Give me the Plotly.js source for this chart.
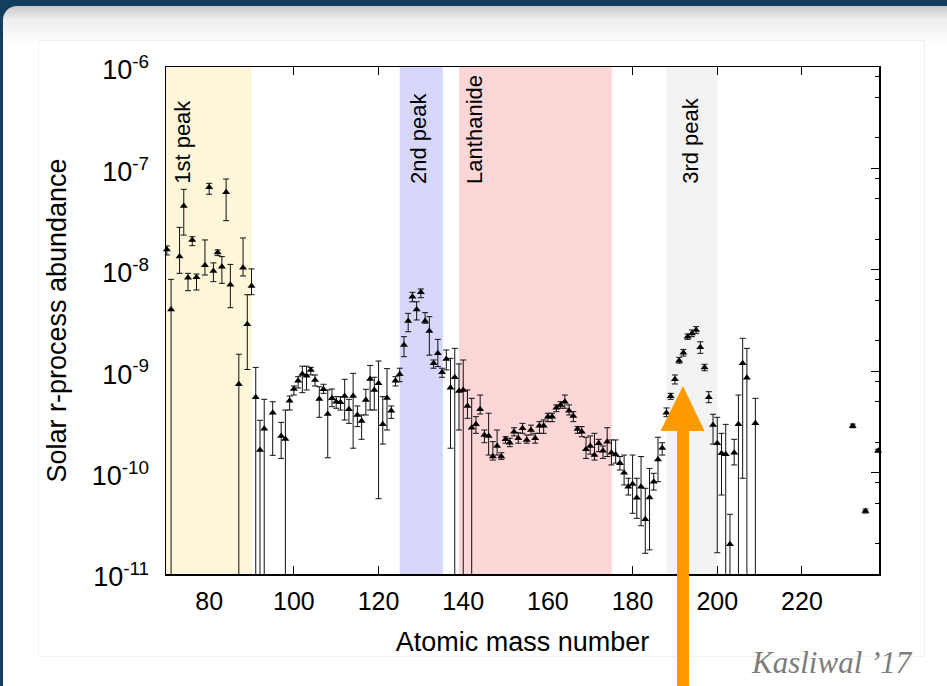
<!DOCTYPE html>
<html>
<head>
<meta charset="utf-8">
<script src="https://cdn.plot.ly/plotly-3.0.1.min.js"></script>
<style>
html,body{margin:0;padding:0;width:947px;height:686px;overflow:hidden;background:#133f5f;}
#panel{position:absolute;left:3px;top:6px;width:1000px;height:740px;border-radius:14px;background:linear-gradient(#c9c9c9 0px,#eeeeee 14px,#ffffff 38px);}
#box{position:absolute;left:38px;top:40px;width:885px;height:615px;border:1px solid #f1f1f1;}
#chart{position:absolute;left:0;top:0;width:947px;height:686px;}
</style>
</head>
<body>
<div id="panel"></div>
<div id="box"></div>
<div id="chart"></div>
<script>
// ---- data ----
const massNumber = [70,71,73,74,75,76,77,79,80,81,82,83,84,85,87,88,89,90,91,92,93,95,97,98,
  99,100,101,102,103,104,105,106,107,108,109,110,111,112,113,114,115,116,117,118,119,120,121,122,123,124,
  125,126,127,128,129,130,131,132,133,134,135,136,137,138,139,140,141,142,143,144,145,146,147,148,149,150,
  151,152,153,154,155,156,157,158,159,160,161,162,163,164,165,166,167,168,169,170,171,172,173,174,175,176,
  177,178,179,180,181,182,183,184,185,186,187,188,189,190,191,192,193,194,195,196,197,198,199,200,201,202,
  203,204,205,206,207,209,232,235,238];
const abundance = [1.59e-8,4.07e-9,1.35e-8,4.26e-8,8.36e-9,1.97e-8,8.43e-9,1.11e-8,6.52e-8,9.73e-9,1.48e-8,1.07e-8,5.81e-8,7.13e-9,7.43e-10,1.05e-8,2.90e-9,6.92e-9,5.53e-10,1.67e-10,2.71e-10,3.90e-10,2.30e-10,2.14e-10,
  5.12e-10,6.68e-10,8.06e-10,9.38e-10,9.03e-10,1.03e-9,8.19e-10,5.32e-10,6.63e-10,3.78e-10,5.40e-10,5.00e-10,4.93e-10,5.69e-10,4.21e-10,5.69e-10,3.70e-10,3.23e-10,5.20e-10,8.38e-10,6.53e-10,7.60e-10,2.99e-10,5.44e-10,4.08e-10,8.06e-10,
  9.32e-10,1.81e-9,3.13e-9,5.43e-9,4.07e-9,6.00e-9,3.13e-9,2.49e-9,1.20e-9,1.50e-9,9.75e-10,1.32e-9,6.88e-10,8.71e-10,6.38e-10,6.53e-10,4.54e-10,2.77e-10,2.99e-10,4.21e-10,2.35e-10,2.30e-10,1.44e-10,1.83e-10,1.44e-10,2.13e-10,
  1.97e-10,2.53e-10,2.18e-10,2.73e-10,2.10e-10,2.63e-10,2.18e-10,2.90e-10,2.90e-10,3.56e-10,3.56e-10,4.37e-10,4.65e-10,5.00e-10,4.08e-10,3.61e-10,2.69e-10,2.53e-10,1.70e-10,1.83e-10,1.49e-10,1.95e-10,1.64e-10,2.02e-10,1.57e-10,1.51e-10,
  1.24e-10,9.98e-11,7.26e-11,7.72e-11,5.65e-11,7.26e-11,3.46e-11,5.69e-11,8.13e-11,1.35e-10,1.75e-10,3.90e-10,5.65e-10,8.32e-10,1.27e-9,1.52e-9,2.19e-9,2.36e-9,2.55e-9,1.72e-9,1.09e-9,5.53e-10,2.94e-10,1.95e-10,1.55e-10,1.52e-10,
  1.96e-11,1.57e-10,2.99e-10,1.20e-9,8.63e-10,3.06e-10,2.88e-10,4.18e-11,1.64e-10];
const abundanceUpper = [1.72e-8,8.05e-9,2.62e-8,6.22e-8,9.23e-9,2.12e-8,9.09e-9,1.97e-8,7.13e-8,1.17e-8,1.57e-8,1.35e-8,7.86e-8,1.13e-8,1.47e-9,2.06e-8,5.68e-9,1.02e-8,1.09e-9,3.28e-10,5.28e-10,5.00e-10,3.13e-10,4.14e-10,
  5.69e-10,7.15e-10,8.83e-10,1.12e-9,1.12e-9,1.09e-9,9.18e-10,7.03e-10,7.43e-10,6.53e-10,6.68e-10,5.61e-10,5.61e-10,8.32e-10,5.28e-10,9.53e-10,4.54e-10,3.70e-10,6.63e-10,1.14e-9,8.71e-10,1.26e-9,5.61e-10,1.06e-9,4.54e-10,8.83e-10,
  1.07e-9,2.19e-9,3.72e-9,6.00e-9,4.84e-9,6.47e-9,3.78e-9,3.45e-9,1.29e-9,2.06e-9,1.07e-9,1.62e-9,1.34e-9,1.68e-9,1.18e-9,1.29e-9,6.53e-10,5.40e-10,3.56e-10,5.82e-10,2.63e-10,3.85e-10,2.02e-10,2.63e-10,1.57e-10,2.26e-10,
  2.18e-10,2.77e-10,2.47e-10,3.06e-10,2.35e-10,2.94e-10,2.44e-10,3.18e-10,3.30e-10,3.85e-10,3.85e-10,4.65e-10,5.00e-10,5.82e-10,4.65e-10,3.99e-10,2.84e-10,2.84e-10,2.23e-10,2.30e-10,2.44e-10,2.13e-10,1.83e-10,2.77e-10,2.10e-10,2.10e-10,
  1.44e-10,1.49e-10,8.79e-11,1.49e-10,8.79e-11,1.44e-10,7.00e-11,1.10e-10,9.84e-11,2.23e-10,1.97e-10,4.34e-10,6.05e-10,9.18e-10,1.37e-9,1.64e-9,2.33e-9,2.55e-9,2.75e-9,1.95e-9,1.17e-9,6.28e-10,3.76e-10,3.51e-10,2.44e-10,2.99e-10,
  3.88e-11,2.13e-10,5.82e-10,2.11e-9,1.68e-9,5.40e-10,3.01e-10,4.37e-11,1.70e-10];
const abundanceLower = [1.40e-8,0,9.23e-9,2.20e-8,6.22e-9,1.73e-8,6.32e-9,8.88e-9,5.56e-8,7.64e-9,1.38e-8,7.36e-9,3.05e-8,4.23e-9,0,8.69e-9,1.04e-9,5.68e-9,0,0,0,1.48e-10,1.38e-10,0,
  4.14e-10,5.82e-10,6.83e-10,6.14e-10,6.53e-10,9.18e-10,7.15e-10,3.51e-10,6.05e-10,1.40e-10,4.47e-10,4.31e-10,4.14e-10,3.30e-10,3.06e-10,1.74e-10,2.84e-10,2.13e-10,3.70e-10,4.14e-10,4.14e-10,5.53e-11,1.91e-10,2.63e-10,3.43e-10,7.15e-10,
  7.88e-10,1.39e-9,2.45e-9,4.84e-9,3.20e-9,5.31e-9,2.97e-9,1.44e-9,1.07e-9,1.11e-9,8.71e-10,1.03e-9,1.74e-10,0,2.63e-10,0,3.43e-10,0,2.44e-10,3.78e-10,1.97e-10,1.49e-10,1.33e-10,1.49e-10,1.35e-10,1.95e-10,
  1.80e-10,2.30e-10,1.95e-10,2.44e-10,1.95e-10,2.35e-10,1.95e-10,2.44e-10,2.44e-10,3.18e-10,3.18e-10,3.99e-10,4.31e-10,4.31e-10,3.70e-10,3.18e-10,2.44e-10,2.26e-10,1.38e-10,1.52e-10,1.33e-10,1.61e-10,1.38e-10,1.44e-10,1.19e-10,1.24e-10,
  1.06e-10,7.55e-11,6.01e-11,3.97e-11,3.54e-11,2.99e-11,1.60e-11,1.73e-11,6.73e-11,8.13e-11,1.49e-10,3.56e-10,5.28e-10,7.48e-10,1.20e-9,1.41e-9,2.06e-9,2.19e-9,2.36e-9,1.50e-9,1.01e-9,4.89e-10,1.91e-10,1.62e-11,6.01e-11,0,
  0,1.19e-10,0,8.79e-11,0,0,2.77e-10,3.99e-11,1.59e-10];

const bandLabels = ['1st peak','2nd peak','Lanthanide','3rd peak'];
const bandStart  = [60, 125, 139, 188];
const bandEnd    = [90, 135.2, 175.1, 200];
const bandLabelX = [73.5, 129.3, 142.6, 193.6];
const bandColors = ['#fdf6d9','#d7d7fb','#fdd7d7','#f3f3f3'];

const xTickVals = [80,100,120,140,160,180,200,220];
const xTickText = ['80','100','120','140','160','180','200','220'];
const yTickVals = [1e-11,1e-10,1e-9,1e-8,1e-7,1e-6];
const yTickText = ['10<sup>-11</sup>','10<sup>-10</sup>','10<sup>-9</sup>','10<sup>-8</sup>','10<sup>-7</sup>','10<sup>-6</sup>'];
const xVisibleTicks = [100,120,180,200,220];
const yMinorTicks = [];
[1e-11,1e-10,1e-9,1e-8,1e-7].forEach(d => [2,5,8].forEach(m => yMinorTicks.push(m*d)));

const errPlus  = abundance.map((v,i) => abundanceUpper[i] - v);
const errMinus = abundance.map((v,i) => v - abundanceLower[i]);

const XR = [69.8, 238.2];
const YR = [-11, -6];

const traces = [
  {
    type:'scatter', mode:'markers', x:massNumber, y:abundance, xaxis:'x', yaxis:'y',
    marker:{size:6, color:'rgba(0,0,0,0)'}, hoverinfo:'skip',
    error_y:{type:'data', symmetric:false, array:errPlus, arrayminus:errMinus, color:'#111', thickness:1, width:3},
    cliponaxis:true, showlegend:false
  },
  {
    type:'scatter', mode:'markers', x:massNumber, y:abundance, xaxis:'x2', yaxis:'y2',
    marker:{symbol:'triangle-up', size:7, color:'#000', line:{width:0}},
    cliponaxis:false, showlegend:false
  }
];

const shapes = bandStart.map((s,i) => ({
  type:'rect', xref:'x', yref:'paper', x0:s, x1:bandEnd[i], y0:0, y1:1,
  fillcolor:bandColors[i], line:{width:0}, layer:'below'
}));
shapes.push({
  type:'path', xref:'paper', yref:'paper', layer:'above',
  path:'M 0.7167,-0.25 L 0.7167,0.2821 L 0.6935,0.2821 L 0.7251,0.3708 L 0.7553,0.2821 L 0.7335,0.2821 L 0.7335,-0.25 Z',
  fillcolor:'#ff9900', line:{width:0}
});

const annotations = bandLabels.map((t,i) => ({
  text:t, xref:'x', yref:'paper', x:bandLabelX[i], y:0.765, textangle:-90,
  xanchor:'center', yanchor:'bottom', showarrow:false,
  font:{family:'Liberation Sans, Arial, sans-serif', size:22, color:'#000'}
}));
annotations.push({
  text:'Kasliwal ’17', xref:'paper', yref:'paper', x:1.0505, y:-0.1736,
  xanchor:'right', yanchor:'middle', showarrow:false,
  font:{family:'Liberation Serif, serif', size:31, color:'#7c7c7c', style:'italic'}
});

const axisBase = {showgrid:false, zeroline:false, linecolor:'#000', linewidth:1.5, showline:true};

const layout = {
  width:947, height:686,
  margin:{l:166, r:68, t:67, b:112, pad:0},
  paper_bgcolor:'rgba(0,0,0,0)', plot_bgcolor:'rgba(0,0,0,0)',
  showlegend:false,
  font:{family:'Liberation Sans, Arial, sans-serif', size:25, color:'#000'},
  xaxis:Object.assign({}, axisBase, {
    range:XR, tickmode:'array', tickvals:xTickVals, ticktext:xTickText, ticks:'', mirror:true,
    ticklabelstandoff:4,
    title:{text:'Atomic mass number', font:{size:27}, standoff:18}
  }),
  yaxis:Object.assign({}, axisBase, {
    type:'log', range:YR, tickmode:'array', tickvals:yTickVals, ticktext:yTickText, ticks:'', mirror:true,
    ticklabelstandoff:10, ticklabelshift:3, tickfont:{size:27},
    title:{text:'Solar r-process abundance', font:{size:27}, standoff:17}
  }),
  xaxis2:Object.assign({}, axisBase, {
    overlaying:'x', anchor:'y2', side:'bottom', range:XR, tickmode:'array', tickvals:xVisibleTicks,
    ticks:'inside', ticklen:8, tickwidth:1, tickcolor:'#000', mirror:'ticks', showticklabels:false
  }),
  yaxis2:Object.assign({}, axisBase, {
    overlaying:'y', anchor:'x2', side:'right', type:'log', range:YR, tickmode:'array', tickvals:yTickVals,
    ticks:'inside', ticklen:8, tickwidth:1, tickcolor:'#000', showticklabels:false,
    minor:{tickmode:'array', tickvals:yMinorTicks, ticks:'inside', ticklen:4, tickwidth:1, tickcolor:'#000'}
  }),
  shapes:shapes,
  annotations:annotations
};

Plotly.newPlot('chart', traces, layout, {displayModeBar:false, staticPlot:true});
</script>
</body>
</html>
